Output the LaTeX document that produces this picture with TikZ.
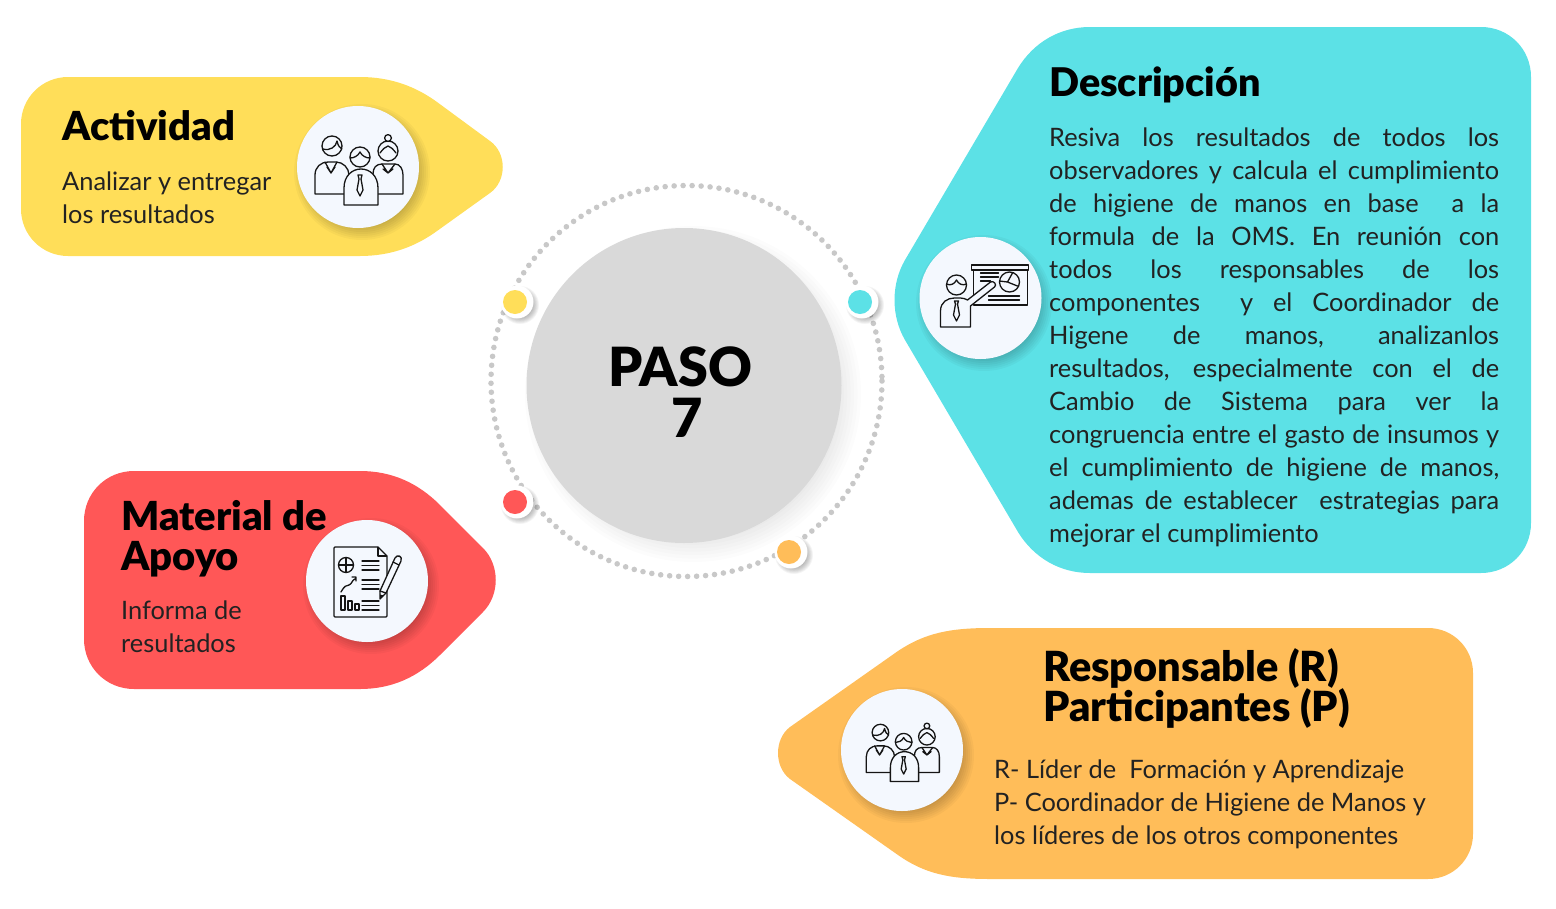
\documentclass[tikz,border=0pt]{standalone}
\usepackage{fontspec}
\setmainfont{Lato}
\newfontfamily\hdfont{Lato Black}
\definecolor{cyel}{HTML}{FFDE59}
\definecolor{ctea}{HTML}{5CE1E6}
\definecolor{cred}{HTML}{FF5757}
\definecolor{cora}{HTML}{FFBD59}
\definecolor{cdisc}{HTML}{F4F8FE}
\definecolor{cgray}{HTML}{D9D9D9}
\definecolor{cdots}{HTML}{C8C8C8}
\definecolor{ctxt}{HTML}{222222}
\definecolor{cink}{HTML}{151515}
\newcommand\softshadow[5]{%
  \foreach \i in {0,...,7}{%
    \fill[black,opacity=#5] ({#1},{#2}) circle[radius={#3-#4+\i*#4/3.5}];}}
\newcommand\JL[1]{\makebox[450pt][s]{\spaceskip=.2em plus 1fil\relax #1}\\}
\tikzset{
  disc/.style={circle,fill=cdisc,minimum size=122pt,inner sep=0pt},
  head/.style={font=\hdfont\fontsize{40}{40}\selectfont,text=black,align=left,inner sep=0pt},
  body/.style={font=\fontsize{25.4}{33}\selectfont,text=ctxt,align=left,inner sep=0pt},
  ink/.style={draw=cink,line width=1.3pt,line join=round,line cap=round},
  inkf/.style={ink,fill=cdisc},
  knob/.style={circle,fill=white,minimum size=33pt,inner sep=0pt},
  people/.pic={
    \draw[inkf] (-43,27)--(-43,8) .. controls (-43,0) and (-37,-5) .. (-30,-5)--(-22,-5) .. controls (-15,-5) and (-9,1) .. (-9,8)--(-9,27)--cycle;
    \draw[ink] (-33,-5)--(-27,6)--(-21,-5) (-27,6)--(-31,0) (-27,6)--(-23,0);
    \draw[inkf] (-26,-21) circle[radius=10];
    \draw[ink] (-35,-18) .. controls (-28,-16) and (-22,-20) .. (-21,-26) .. controls (-20,-21) and (-18,-19) .. (-16,-18);
    \draw[inkf] (15,27)--(15,7) .. controls (15,1) and (18,-3) .. (24,-3)--(37,-3) .. controls (42,-3) and (45,2) .. (45,8)--(45,27)--cycle;
    \draw[ink] (24,-3)--(30,6)--(37,-3) (25,2)--(30,6)--(35,2);
    \draw[inkf] (30,-16) circle[radius=10];
    \draw[inkf] (30,-29) circle[radius=3.4];
    \draw[ink] (22,-14) .. controls (25,-18) and (27,-20) .. (30,-21) .. controls (33,-20) and (35,-18) .. (38,-14);
    \draw[inkf] (-14,38)--(-14,21) .. controls (-14,9) and (-6,2) .. (3,2) .. controls (12,2) and (20,9) .. (20,21)--(20,38)--cycle;
    \draw[inkf] (2,-10) circle[radius=10];
    \draw[ink] (-8,-9) .. controls (-4,-9) and (0,-11) .. (2,-15) .. controls (4,-11) and (8,-9) .. (12,-9);
    \draw[ink] (0,8)--(4,8)--(3,12)--(5,23)--(2,29)--(-1,23)--(1,12)--cycle;
  },
  presenter/.pic={
    \draw[ink] (-7,-28)--(-7,7)--(47,7)--(47,-28);
    \draw[ink] (-9,-33) rectangle (48,-28);
    \draw[ink] (0,-25)--(18,-25) (0,-21)--(18,-21) (0,-17)--(10,-17);
    \draw[ink] (8,-2)--(39,-2) (8,2)--(39,2);
    \draw[ink] (29,-16) circle[radius=10];
    \draw[ink] (19,-17)--(27,-16)--(37,-12) (27,-16)--(32,-25);
    \draw[inkf] (-40,29)--(-40,13) .. controls (-40,4) and (-33,0) .. (-26,0)--(-20,0) .. controls (-17,0) and (-15,1) .. (-13,2)--(10,-16) .. controls (13,-18) and (17,-13) .. (14,-11)--(-10,8)--(-10,29)--cycle;
    \draw[inkf] (-24,-13) circle[radius=10];
    \draw[ink] (-34,-14) .. controls (-30,-12) and (-26,-14) .. (-24,-18) .. controls (-22,-14) and (-18,-12) .. (-14,-14);
    \draw[ink] (-26,3)--(-22,3)--(-23,6)--(-21,17)--(-24,23)--(-27,17)--(-25,6)--cycle;
  },
  report/.pic={
    \draw[ink,rounded corners=1pt] (11,-34)--(-33,-34)--(-33,36)--(20,36)--(20,-25)--cycle;
    \draw[ink] (11,-34)--(11,-25)--(20,-25);
    \draw[ink] (-21,-16) circle[radius=7.5];
    \draw[ink] (-28.5,-16)--(-13.5,-16) (-21,-23.5)--(-21,-8.5);
    \draw[ink] (-5,-20)--(12,-20) (-5,-15.5)--(12,-15.5) (-5,-11)--(12,-11);
    \draw[ink] (-5,-1)--(12,-1) (-5,3.5)--(12,3.5) (-5,8)--(12,8);
    \draw[ink] (-5,20)--(12,20) (-5,24.5)--(12,24.5) (-5,29)--(12,29);
    \draw[ink] (-26,11) .. controls (-22,4) and (-21,5) .. (-18,4) .. controls (-15,3) and (-15,-1) .. (-12,-2)--(-11,-3) (-15,-4)--(-11,-4)--(-11,0);
    \draw[ink] (-26,15) rectangle (-22,29);
    \draw[ink] (-19,20) rectangle (-15,29);
    \draw[ink] (-12,23) rectangle (-8,29);
    \draw[ink,fill=cdisc] (13,10)--(28,-23) .. controls (30,-27) and (36,-25) .. (34,-20)--(19,12)--(13,18)--cycle;
    \draw[ink] (26,-19)--(32,-16) (13,10)--(19,12);
    \fill[cink] (13,18)--(13,13.5)--(17,14.5)--cycle;
  }
}
\begin{document}
\begin{tikzpicture}[x=1pt,y=-1pt]
\useasboundingbox (0,0) rectangle (1556,908);
% Panels
\fill[cyel] (68,77)--(360,77) .. controls (390,77) and (415,86) .. (437,102)--(490,141) .. controls (507,153) and (507,181) .. (490,193)--(437,231) .. controls (415,247) and (390,256) .. (360,256)--(68,256) .. controls (42,256) and (21,235) .. (21,209)--(21,124) .. controls (21,98) and (42,77) .. (68,77)--cycle;
\fill[ctea] (1090,27)--(1481,27) .. controls (1509,27) and (1531,49) .. (1531,77)--(1531,523) .. controls (1531,551) and (1509,573) .. (1481,573)--(1090,573) .. controls (1060,573) and (1034,558) .. (1018,532)--(905,340) .. controls (891,316) and (891,284) .. (905,260)--(1018,68) .. controls (1034,42) and (1060,27) .. (1090,27)--cycle;
\fill[cred] (134,471)--(360,471) .. controls (392,471) and (418,483) .. (440,505)--(483,548) .. controls (500,565) and (500,595) .. (483,612)--(440,655) .. controls (418,677) and (392,689) .. (360,689)--(134,689) .. controls (106,689) and (84,667) .. (84,639)--(84,521) .. controls (84,493) and (106,471) .. (134,471)--cycle;
\fill[cora] (990,628)--(1428,628) .. controls (1453,628) and (1473,648) .. (1473,673)--(1473,834) .. controls (1473,859) and (1453,879) .. (1428,879)--(990,879) .. controls (950,879) and (925,874) .. (898,855)--(790,779) .. controls (774,767) and (774,739) .. (790,727)--(898,651) .. controls (925,633) and (950,628) .. (990,628)--cycle;
% Ring
\draw[cdots,line width=5.6pt,line cap=round,dash pattern=on 0pt off 9pt] (686.5,381) circle[radius=195.5];
% Central circle
\softshadow{693}{394}{156}{12}{0.012}
\node[circle,fill=cgray,minimum size=315pt,inner sep=0pt] (center) at (684,385.5) {};
\node[font=\hdfont\fontsize{54}{51}\selectfont,text=black,align=center,inner sep=0pt] (pasotxt) at (680,392) {PASO\\\hspace*{14pt}7};
% Knobs
\softshadow{520}{305}{16}{3}{0.04}
\softshadow{865}{305}{16}{3}{0.04}
\softshadow{520}{505}{16}{3}{0.04}
\softshadow{794}{555}{16}{3}{0.04}
\node[knob] (k1) at (517,302) {};
\node[knob] (k2) at (862,302) {};
\node[knob] (k3) at (517,502) {};
\node[knob] (k4) at (791,552) {};
\node[circle,fill=cyel,minimum size=24pt,inner sep=0pt] (d1) at (515,302) {};
\node[circle,fill=ctea,minimum size=24pt,inner sep=0pt] (d2) at (860,302) {};
\node[circle,fill=cred,minimum size=24pt,inner sep=0pt] (d3) at (515,502) {};
\node[circle,fill=cora,minimum size=24pt,inner sep=0pt] (d4) at (789,552) {};
% Discs
\softshadow{362}{172}{61}{7}{0.03}
\softshadow{984}{303}{61}{7}{0.03}
\softshadow{371}{586}{61}{7}{0.03}
\softshadow{906}{755}{61}{7}{0.03}
\node[disc] (dy) at (358,167) {};
\node[disc] (dt) at (980.5,298) {};
\node[disc] (dr) at (367,581) {};
\node[disc] (do) at (902,750) {};
\pic at (dy.center) {people};
\pic at (dt.center) {presenter};
\pic at (dr.center) {report};
\pic[scale=.83] at (do.center) {people};
% Text
\node[head,anchor=base west] (t1) at (62,140) {Actividad};
\node[body,anchor=north west] (b1) at (62,172) {Analizar y entregar\\los resultados};
\node[head,anchor=base west,font=\hdfont\fontsize{39.5}{40}\selectfont] (t2) at (1049,96) {Descripción};
\node[body,anchor=north west] (b2) at (1049,128) {%
\JL{Resiva los resultados de todos los}
\JL{observadores y calcula el cumplimiento}
\JL{de higiene de manos en base~ a la}
\JL{formula de la OMS. En reunión con}
\JL{todos los responsables de los}
\JL{componentes~ y el Coordinador de}
\JL{Higene de manos, analizanlos}
\JL{resultados, especialmente con el de}
\JL{Cambio de Sistema para ver la}
\JL{congruencia entre el gasto de insumos y}
\JL{el cumplimiento de higiene de manos,}
\JL{ademas de establecer~ estrategias para}
mejorar el cumplimiento};
\node[head,anchor=north west] (t3) at (121,500) {Material de\\Apoyo};
\node[body,anchor=north west] (b3) at (121,601) {Informa de\\resultados};
\node[head,anchor=north west,font=\hdfont\fontsize{41.5}{40}\selectfont] (t4) at (1043,648) {Responsable (R)\\Participantes (P)};
\node[body,anchor=north west] (b4) at (994,760) {R- Líder de \ Formación y Aprendizaje\\P- Coordinador de Higiene de Manos y\\los líderes de los otros componentes};
\end{tikzpicture}
\end{document}
